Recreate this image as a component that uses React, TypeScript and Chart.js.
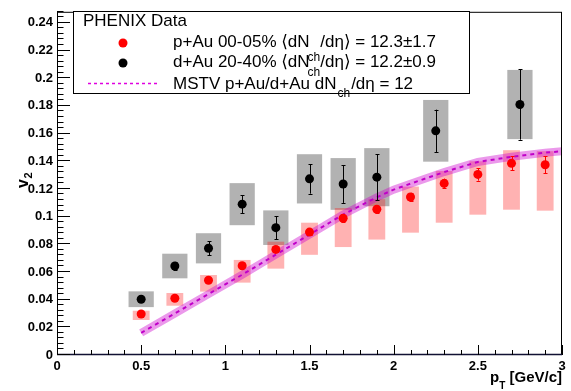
import React, { useEffect, useRef } from "react";
import { Chart, registerables } from "chart.js";

Chart.register(...registerables);

// ---- Data ----
const redX = [0.5, 0.7, 0.9, 1.1, 1.3, 1.5, 1.7, 1.9, 2.1, 2.3, 2.5, 2.7, 2.9];
const redV2 = [0.0296, 0.041, 0.054, 0.0645, 0.0763, 0.0888, 0.0988, 0.1053, 0.1142, 0.124, 0.1305, 0.1385, 0.1375];
const redStat = [0.001, 0.001, 0.0012, 0.0015, 0.0018, 0.002, 0.0025, 0.0025, 0.003, 0.0035, 0.0045, 0.005, 0.006];
const redSysUp = [0.0024, 0.0038, 0.0038, 0.0042, 0.0056, 0.0068, 0.0074, 0.0073, 0.0075, 0.009, 0.0095, 0.0095, 0.0098];
const redSysDown = [0.0043, 0.0054, 0.0082, 0.0122, 0.0139, 0.0164, 0.0208, 0.0219, 0.0258, 0.0284, 0.0291, 0.0335, 0.0332];

const blackX = [0.5, 0.7, 0.9, 1.1, 1.3, 1.5, 1.7, 1.9, 2.25, 2.75];
const blackV2 = [0.0403, 0.0643, 0.0771, 0.109, 0.092, 0.1273, 0.1236, 0.1285, 0.162, 0.181];
const blackStat = [0.0012, 0.003, 0.005, 0.0065, 0.0083, 0.0107, 0.0137, 0.0167, 0.0153, 0.0254];
const blackSys = [0.0057, 0.0089, 0.0109, 0.0152, 0.0125, 0.0178, 0.0187, 0.021, 0.0223, 0.025];

const mstvX = [0.5, 0.7, 0.9, 1.1, 1.3, 1.5, 1.7, 1.9, 2.0, 2.1, 2.3, 2.5, 2.7, 2.9, 3.0];
const mstvV2 = [0.016, 0.03, 0.044, 0.058, 0.0725, 0.087, 0.1015, 0.114, 0.1195, 0.1238, 0.1322, 0.1395, 0.1432, 0.1462, 0.1472];

const xTickValues = [0, 0.5, 1, 1.5, 2, 2.5, 3];
const yTickValues = [0, 0.02, 0.04, 0.06, 0.08, 0.1, 0.12, 0.14, 0.16, 0.18, 0.2, 0.22, 0.24];
const X_MIN = 0, X_MAX = 3, Y_MIN = 0, Y_MAX = 0.248;
const X_MINOR = 0.1, Y_MINOR = 0.004;

const FONT = '"Liberation Sans", Arial, "DejaVu Sans", sans-serif';

const fmt = (v: number) => String(+v.toFixed(3));

export default function App() {
  const ref = useRef<HTMLCanvasElement>(null);

  useEffect(() => {
    const canvas = ref.current!;

    const plugin = {
      id: "rootStyle",
      beforeDatasetsDraw(chart: any) {
        const { ctx, chartArea: a } = chart;
        const x = chart.scales.x, y = chart.scales.y;
        ctx.save();
        ctx.beginPath();
        ctx.rect(a.left, a.top, a.right - a.left, a.bottom - a.top);
        ctx.clip();
        ctx.fillStyle = "rgba(0,0,0,0.3)";
        blackX.forEach((xv, i) => {
          const x0 = x.getPixelForValue(xv - 0.075);
          const x1 = x.getPixelForValue(xv + 0.075);
          const y0 = y.getPixelForValue(blackV2[i] + blackSys[i]);
          const y1 = y.getPixelForValue(blackV2[i] - blackSys[i]);
          ctx.fillRect(x0, y0, x1 - x0, y1 - y0);
        });
        ctx.fillStyle = "rgba(255,0,0,0.3)";
        redX.forEach((xv, i) => {
          const x0 = x.getPixelForValue(xv - 0.05);
          const x1 = x.getPixelForValue(xv + 0.05);
          const y0 = y.getPixelForValue(redV2[i] + redSysUp[i]);
          const y1 = y.getPixelForValue(redV2[i] - redSysDown[i]);
          ctx.fillRect(x0, y0, x1 - x0, y1 - y0);
        });
        ctx.restore();
      },
      afterDatasetDraw(chart: any, args: any) {
        if (args.index !== 2) return;
        const { ctx } = chart;
        const x = chart.scales.x, y = chart.scales.y;
        ctx.save();
        ctx.lineWidth = 1;
        const bar = (xv: number, v: number, e: number, color: string) => {
          const px = Math.round(x.getPixelForValue(xv)) + 0.5;
          const y0 = y.getPixelForValue(v + e);
          const y1 = y.getPixelForValue(v - e);
          ctx.strokeStyle = color;
          ctx.beginPath();
          ctx.moveTo(px, y0);
          ctx.lineTo(px, y1);
          ctx.moveTo(px - 2, Math.round(y0) + 0.5);
          ctx.lineTo(px + 2, Math.round(y0) + 0.5);
          ctx.moveTo(px - 2, Math.round(y1) + 0.5);
          ctx.lineTo(px + 2, Math.round(y1) + 0.5);
          ctx.stroke();
        };
        blackX.forEach((xv, i) => bar(xv, blackV2[i], blackStat[i], "#000"));
        redX.forEach((xv, i) => bar(xv, redV2[i], redStat[i], "#f00"));
        ctx.restore();
      },
      afterDraw(chart: any) {
        const { ctx, chartArea: a } = chart;
        const x = chart.scales.x, y = chart.scales.y;
        ctx.save();
        // frame
        ctx.strokeStyle = "#000";
        ctx.lineWidth = 1;
        ctx.strokeRect(a.left + 0.5, a.top + 0.5, a.right - a.left - 1, a.bottom - a.top - 1);
        ctx.lineWidth = 1.5;
        ctx.strokeStyle = "#111133";
        ctx.beginPath();
        ctx.moveTo(a.left, a.bottom - 0.5);
        ctx.lineTo(a.right, a.bottom - 0.5);
        ctx.stroke();
        // ticks
        ctx.strokeStyle = "#000";
        ctx.lineWidth = 1;
        ctx.beginPath();
        const nY = Math.round((Y_MAX - Y_MIN) / Y_MINOR);
        for (let i = 0; i <= nY; i++) {
          const v = Y_MIN + i * Y_MINOR;
          if (v > Y_MAX + 1e-9) break;
          const py = Math.round(y.getPixelForValue(v)) - 0.5;
          const len = i % 5 === 0 ? 13 : 6.5;
          ctx.moveTo(a.left, py);
          ctx.lineTo(a.left + len, py);
        }
        const nX = Math.round((X_MAX - X_MIN) / X_MINOR);
        for (let i = 0; i <= nX; i++) {
          const v = X_MIN + i * X_MINOR;
          const px = Math.round(x.getPixelForValue(v)) + 0.5;
          const len = i % 5 === 0 ? 10 : 5;
          ctx.moveTo(px, a.bottom);
          ctx.lineTo(px, a.bottom - len);
        }
        ctx.stroke();

        // axis titles
        ctx.fillStyle = "#000";
        ctx.textBaseline = "alphabetic";
        ctx.textAlign = "left";
        // y title v_2
        ctx.save();
        ctx.translate(28, 188);
        ctx.rotate(-Math.PI / 2);
        ctx.font = `bold 16px ${FONT}`;
        ctx.fillText("v", 0, 0);
        const wv = ctx.measureText("v").width;
        ctx.font = `bold 11px ${FONT}`;
        ctx.fillText("2", wv + 0.5, 4);
        ctx.restore();
        // x title p_T [GeV/c]
        {
          ctx.font = `bold 15px ${FONT}`;
          const rest = " [GeV/c]";
          const wRest = ctx.measureText(rest).width;
          const wp = ctx.measureText("p").width;
          ctx.font = `bold 10px ${FONT}`;
          const wT = ctx.measureText("T").width;
          const right = a.right;
          const xStart = right - wRest - wT - wp;
          ctx.font = `bold 15px ${FONT}`;
          ctx.fillText("p", xStart, 382);
          ctx.fillText(rest, xStart + wp + wT, 382);
          ctx.font = `bold 10px ${FONT}`;
          ctx.fillText("T", xStart + wp, 389);
        }

        // legend
        const L = 73, T = 11, R = 470, B = 94;
        ctx.fillStyle = "#fff";
        ctx.fillRect(L, T, R - L, B - T);
        ctx.strokeStyle = "#000";
        ctx.lineWidth = 1;
        ctx.strokeRect(L + 0.5, T + 0.5, R - L - 1, B - T - 1);
        ctx.fillStyle = "#000";
        ctx.font = `17px ${FONT}`;
        ctx.fillText("PHENIX Data", 83, 26);

        const entry = (x0: number, base: number, pre: string, post: string, subDy: number, subDx: number, postDx: number) => {
          ctx.font = `17px ${FONT}`;
          ctx.fillStyle = "#000";
          ctx.fillText(pre, x0, base);
          const wPre = ctx.measureText(pre).width;
          ctx.font = `12px ${FONT}`;
          const wSub = ctx.measureText("ch").width;
          ctx.fillText("ch", x0 + wPre + subDx, base + subDy);
          ctx.font = `17px ${FONT}`;
          ctx.fillText(post, x0 + wPre + subDx + wSub + postDx, base);
        };
        // markers
        ctx.fillStyle = "#f00";
        ctx.beginPath();
        ctx.arc(123, 43, 4.5, 0, Math.PI * 2);
        ctx.fill();
        ctx.fillStyle = "#000";
        ctx.beginPath();
        ctx.arc(123, 63, 4.5, 0, Math.PI * 2);
        ctx.fill();
        ctx.strokeStyle = "#e000e0";
        ctx.lineWidth = 1.3;
        ctx.setLineDash([3, 3]);
        ctx.beginPath();
        ctx.moveTo(88, 83.5);
        ctx.lineTo(157, 83.5);
        ctx.stroke();
        ctx.setLineDash([]);

        entry(173, 47, "p+Au 00-05% \u27E8dN", "/d\u03B7\u27E9 = 12.3\u00B11.7", 14, -2, 0);
        entry(173, 67, "d+Au 20-40% \u27E8dN", "/d\u03B7\u27E9 = 12.2\u00B10.9", 9, -2, 0);
        entry(173, 89, "MSTV p+Au/d+Au dN", "/d\u03B7 = 12", 8, 1, 1);
        ctx.restore();
      },
    };

    const chart = new Chart(canvas, {
      type: "scatter",
      data: {
        datasets: [
          {
            label: "d+Au",
            data: blackX.map((xv, i) => ({ x: xv, y: blackV2[i] })),
            pointRadius: 4.5,
            pointBackgroundColor: "#000",
            pointBorderWidth: 0,
            showLine: false,
          },
          {
            label: "p+Au",
            data: redX.map((xv, i) => ({ x: xv, y: redV2[i] })),
            pointRadius: 4.5,
            pointBackgroundColor: "#f00",
            pointBorderWidth: 0,
            showLine: false,
          },
          {
            label: "MSTV",
            data: mstvX.map((xv, i) => ({ x: xv, y: mstvV2[i] })),
            showLine: true,
            borderColor: "#c000c8",
            borderWidth: 2,
            borderDash: [4, 4],
            pointRadius: 0,
            tension: 0,
            fill: false,
          },
          {
            label: "MSTV band",
            data: mstvX.map((xv, i) => ({ x: xv, y: mstvV2[i] })),
            showLine: true,
            borderColor: "rgba(204,0,204,0.4)",
            borderWidth: 8,
            pointRadius: 0,
            tension: 0,
            fill: false,
          },
        ],
      },
      options: {
        animation: false,
        responsive: false,
        devicePixelRatio: 1,
        layout: { padding: { top: 11, right: 9, left: 0, bottom: 0 } },
        plugins: { legend: { display: false }, tooltip: { enabled: false } },
        scales: {
          x: {
            type: "linear",
            min: X_MIN,
            max: X_MAX,
            grid: { display: false, drawTicks: false },
            border: { display: false },
            afterBuildTicks: (s: any) => {
              s.ticks = xTickValues.map((v) => ({ value: v }));
            },
            afterFit: (s: any) => {
              s.height = 36;
            },
            ticks: {
              color: "#000",
              padding: 4,
              maxRotation: 0,
              autoSkip: false,
              font: { family: FONT, size: 13, weight: "bold" },
              callback: (v: any) => fmt(Number(v)),
            },
          },
          y: {
            type: "linear",
            min: Y_MIN,
            max: Y_MAX,
            grid: { display: false, drawTicks: false },
            border: { display: false },
            afterBuildTicks: (s: any) => {
              s.ticks = yTickValues.map((v) => ({ value: v }));
            },
            afterFit: (s: any) => {
              s.width = 57;
            },
            ticks: {
              color: "#000",
              padding: 4,
              autoSkip: false,
              font: { family: FONT, size: 13, weight: "bold" },
              callback: (v: any) => fmt(Number(v)),
            },
          },
        },
      },
      plugins: [plugin],
    } as any);

    return () => chart.destroy();
  }, []);

  return (
    <div style={{ position: "fixed", left: 0, top: 0, width: 571, height: 391, background: "#fff" }}>
      <canvas ref={ref} width={571} height={391} style={{ display: "block" }} />
    </div>
  );
}
